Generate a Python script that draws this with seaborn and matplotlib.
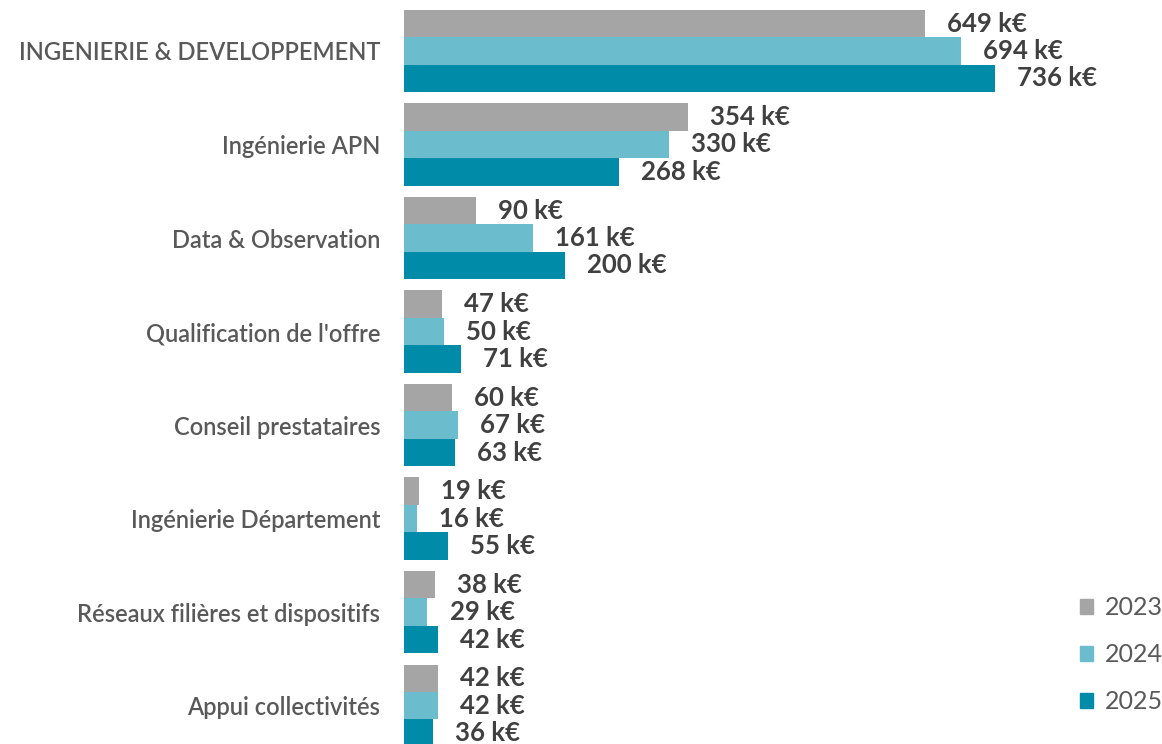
import pandas as pd
import matplotlib.pyplot as plt
import seaborn as sns

categories = ["INGENIERIE & DEVELOPPEMENT", "Ingénierie APN", "Data & Observation",
              "Qualification de l'offre", "Conseil prestataires", "Ingénierie Département",
              "Réseaux filières et dispositifs", "Appui collectivités"]
years = ["2023", "2024", "2025"]
values_2023 = [649, 354, 90, 47, 60, 19, 38, 42]
values_2024 = [694, 330, 161, 50, 67, 16, 29, 42]
values_2025 = [736, 268, 200, 71, 63, 55, 42, 36]

df = pd.DataFrame({
    "Catégorie": categories * 3,
    "Année": [y for y in years for _ in categories],
    "Valeur": values_2023 + values_2024 + values_2025,
})

sns.set_style("white")
plt.rcParams["font.family"] = ["Lato", "DejaVu Sans"]

colors = ["#a5a5a5", "#6bbccd", "#008ba8"]

fig = plt.figure(figsize=(11.62, 7.44), dpi=100)
ax = fig.add_axes([404 / 1162, 0, 1 - 404 / 1162, 1])
sns.barplot(data=df, y="Catégorie", x="Valeur", hue="Année", palette=colors,
            orient="h", width=0.88, gap=0, saturation=1, linewidth=0,
            ax=ax, legend=False)

for container in ax.containers:
    ax.bar_label(container, labels=[f"{int(v)} k€" for v in container.datavalues],
                 padding=16, fontsize=18.5, fontweight="bold", color="#404040")

ax.set_xlim(0, 944)
ax.set_ylim(7.41, -0.545)
ax.set_xlabel("")
ax.set_ylabel("")
ax.set_xticks([])
ax.tick_params(axis="y", length=0, pad=17, labelsize=17, labelcolor="#595959")
for lbl in ax.get_yticklabels():
    lbl.set_fontweight("semibold")
sns.despine(ax=ax, left=True, bottom=True)

handles = [plt.Rectangle((0, 0), 1, 1, color=c) for c in colors]
fig.legend(handles, years, loc="center right", bbox_to_anchor=(1.02, 0.12),
           frameon=False, fontsize=18, labelcolor="#595959", handlelength=0.55,
           handleheight=0.55, labelspacing=0.95, handletextpad=0.45)

fig.savefig("out.png", dpi=100)
